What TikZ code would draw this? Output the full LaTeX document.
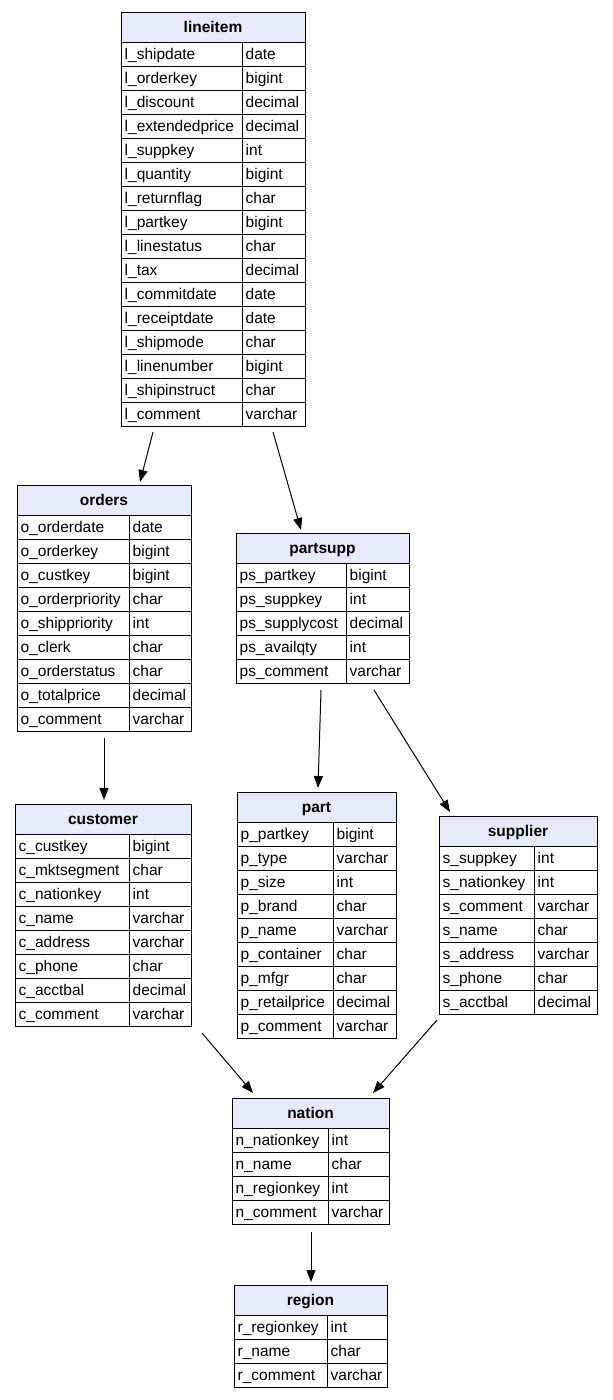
\documentclass[tikz,border=0pt]{standalone}
\usepackage{fontspec}
\setmainfont{Liberation Sans}
\usetikzlibrary{arrows.meta,calc}
\definecolor{hdrfill}{RGB}{232,234,250}
\tikzset{
  tblframe/.style={inner sep=0pt, outer sep=0pt},
  gridline/.style={draw=black, line width=1pt},
  celltext/.style={inner sep=0pt, anchor=base west, font=\fontsize{15.5}{18}\selectfont},
  hdrtext/.style={inner sep=0pt, anchor=base, font=\fontsize{15.5}{18}\selectfont\bfseries},
  fk/.style={draw=black, line width=1pt, -{Triangle[length=12pt,width=9pt]}},
}
\newcommand{\erTable}[8]{%
  \pgfmathsetmacro{\erH}{30+24*#6}%
  \node[tblframe, minimum width={(#5-#2)*1pt}, minimum height={\erH*1pt}, anchor=north west] (#1) at (#2,-#3) {};
  \fill[hdrfill] (#1.north west) rectangle ($(#1.north east)+(0,-30)$);
  \node[hdrtext] (#1-title) at ($(#1.north)+(0,-20)$) {#7};
  \foreach \f/\t [count=\i] in {#8} {
    \draw[gridline] ($(#1.north west)+(0,{-30-24*(\i-1)})$) -- ++(#5-#2,0);
    \node[celltext] (#1-f\i) at ($(#1.north west)+(3.5,{-30-24*\i+7})$) {\f};
    \node[celltext] (#1-t\i) at (#4+3.5,{-#3-30-24*\i+7}) {\t};
  }
  \draw[gridline] (#4,-#3-30) -- (#4,-#3-\erH);
  \draw[gridline] (#1.north west) rectangle (#1.south east);
}
\begin{document}
\begin{tikzpicture}[x=1pt,y=1pt]
\useasboundingbox (0,0) rectangle (613,-1400);
\erTable{lineitem}{121}{12}{242}{305}{16}{lineitem}{l\_shipdate/date, l\_orderkey/bigint, l\_discount/decimal, l\_extendedprice/decimal, l\_suppkey/int, l\_quantity/bigint, l\_returnflag/char, l\_partkey/bigint, l\_linestatus/char, l\_tax/decimal, l\_commitdate/date, l\_receiptdate/date, l\_shipmode/char, l\_linenumber/bigint, l\_shipinstruct/char, l\_comment/varchar}
\erTable{orders}{17}{485}{129}{191}{9}{orders}{o\_orderdate/date, o\_orderkey/bigint, o\_custkey/bigint, o\_orderpriority/char, o\_shippriority/int, o\_clerk/char, o\_orderstatus/char, o\_totalprice/decimal, o\_comment/varchar}
\erTable{partsupp}{236}{533}{346}{409}{5}{partsupp}{ps\_partkey/bigint, ps\_suppkey/int, ps\_supplycost/decimal, ps\_availqty/int, ps\_comment/varchar}
\erTable{customer}{15}{804}{129}{191}{8}{customer}{c\_custkey/bigint, c\_mktsegment/char, c\_nationkey/int, c\_name/varchar, c\_address/varchar, c\_phone/char, c\_acctbal/decimal, c\_comment/varchar}
\erTable{part}{237}{792}{333}{396}{9}{part}{p\_partkey/bigint, p\_type/varchar, p\_size/int, p\_brand/char, p\_name/varchar, p\_container/char, p\_mfgr/char, p\_retailprice/decimal, p\_comment/varchar}
\erTable{supplier}{439}{816}{534}{597}{7}{supplier}{s\_suppkey/int, s\_nationkey/int, s\_comment/varchar, s\_name/char, s\_address/varchar, s\_phone/char, s\_acctbal/decimal}
\erTable{nation}{232}{1098}{328}{389}{4}{nation}{n\_nationkey/int, n\_name/char, n\_regionkey/int, n\_comment/varchar}
\erTable{region}{234}{1285}{327}{387}{3}{region}{r\_regionkey/int, r\_name/char, r\_comment/varchar}
\draw[fk] ($(lineitem.south west)+(32,-6)$) -- ($(orders.north west)+(123,3)$);
\draw[fk] ($(lineitem.south west)+(152,-6)$) -- ($(partsupp.north west)+(65,3)$);
\draw[fk] ($(orders.south west)+(87,-7)$) -- ($(customer.north west)+(89,4)$);
\draw[fk] ($(partsupp.south west)+(85,-7)$) -- ($(part.north west)+(81,4)$);
\draw[fk] ($(partsupp.south west)+(138,-7)$) -- ($(supplier.north west)+(11,4)$);
\draw[fk] ($(customer.south west)+(187,-7)$) -- ($(nation.north west)+(21,5)$);
\draw[fk] ($(supplier.south west)+(-2,-6)$) -- ($(nation.north west)+(141,5)$);
\draw[fk] ($(nation.south west)+(79,-8)$) -- ($(region.north west)+(77,3)$);
\end{tikzpicture}
\end{document}
